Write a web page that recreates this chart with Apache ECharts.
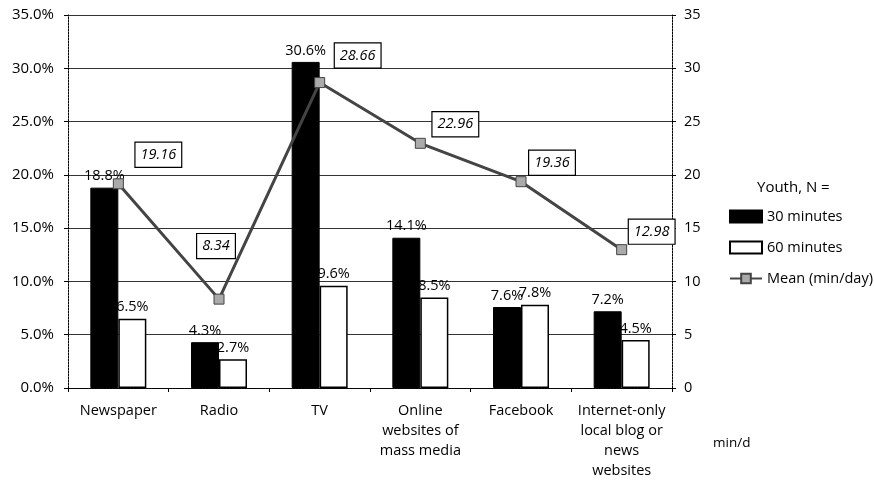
<!DOCTYPE html>
<html>
<head>
<meta charset="utf-8">
<script src="https://cdn.jsdelivr.net/npm/echarts@6/dist/echarts.min.js"></script>
<style>
  html, body { margin: 0; padding: 0; background: #fff; }
  #chart { width: 874px; height: 482px; }
</style>
</head>
<body>
<div id="chart"></div>
<script>
// Media categories along the x axis
const categories = [
  'Newspaper',
  'Radio',
  'TV',
  'Online\nwebsites of\nmass media',
  'Facebook',
  'Internet-only\nlocal blog or\nnews\nwebsites'
];
// Share of youth (%) per usage time
const share30 = [18.8, 4.3, 30.6, 14.1, 7.6, 7.2];
const share60 = [6.5, 2.7, 9.6, 8.5, 7.8, 4.5];
// Mean usage, minutes per day
const meanMinutes = [19.16, 8.34, 28.66, 22.96, 19.36, 12.98];
// Where each boxed mean label sits relative to its point
const meanLabelOffsets = [[40, -29], [-3, -53], [38, -27], [35, -19], [31, -19], [30, -18]];

const FONT = 'Open Sans';
const chart = echarts.init(document.getElementById('chart'));

const meanData = meanMinutes.map((v, i) => ({
  value: v,
  label: { offset: meanLabelOffsets[i] }
}));

chart.setOption({
  animation: false,
  textStyle: { fontFamily: FONT, color: '#000' },
  title: [{
    text: 'Youth, N =',
    left: 752, top: 175,
    textStyle: { fontFamily: FONT, fontSize: 15, fontWeight: 'normal', color: '#000' }
  }, {
    text: 'min/d',
    left: 708, top: 431,
    textStyle: { fontFamily: FONT, fontSize: 13.5, fontWeight: 'normal', color: '#000' }
  }],
  legend: {
    orient: 'vertical',
    left: 724, top: 204,
    itemGap: 16,
    itemWidth: 32, itemHeight: 12,
    textStyle: { fontFamily: FONT, fontSize: 14.5, color: '#000' },
    data: [
      { name: '30 minutes', icon: 'rect' },
      { name: '60 minutes', icon: 'rect' },
      { name: 'Mean (min/day)' }
    ]
  },
  grid: { left: 68, right: 202, top: 15, bottom: 94 },
  xAxis: {
    type: 'category',
    data: categories,
    axisLine: { lineStyle: { color: '#000', width: 1, type: [2, 1] } },
    axisTick: { show: true, length: 4, lineStyle: { color: '#000' } },
    axisLabel: { fontFamily: FONT, fontSize: 14.5, color: '#000', margin: 13, lineHeight: 20, interval: 0 }
  },
  yAxis: [{
    type: 'value',
    min: 0, max: 35, interval: 5,
    axisLine: { show: true, lineStyle: { color: '#000', type: [2, 1] } },
    axisTick: { show: true, length: 4, lineStyle: { color: '#000' } },
    axisLabel: { fontFamily: FONT, fontSize: 15, color: '#000', margin: 14,
      formatter: v => v.toFixed(1) + '%' },
    splitLine: { show: true, lineStyle: { color: '#333', width: 1 } }
  }, {
    type: 'value',
    position: 'right',
    min: 0, max: 35, interval: 5,
    axisLine: { show: true, lineStyle: { color: '#000', type: [2, 1] } },
    axisTick: { show: true, length: 4, lineStyle: { color: '#000' } },
    axisLabel: { fontFamily: FONT, fontSize: 14.5, color: '#000', margin: 12 },
    splitLine: { show: false }
  }],
  series: [{
    name: '30 minutes',
    type: 'bar',
    data: share30,
    barWidth: 28,
    barGap: '0%',
    itemStyle: { color: '#000', borderColor: '#000', borderWidth: 1 },
    label: { show: true, position: 'top', distance: 4, fontFamily: FONT, fontSize: 14.5, color: '#000',
      formatter: p => p.value.toFixed(1) + '%' }
  }, {
    name: '60 minutes',
    type: 'bar',
    data: share60,
    barWidth: 28,
    barGap: '0%',
    itemStyle: { color: '#fff', borderColor: '#000', borderWidth: 1.5 },
    label: { show: true, position: 'top', distance: 4, fontFamily: FONT, fontSize: 14.5, color: '#000',
      formatter: p => p.value.toFixed(1) + '%' }
  }, {
    name: 'Mean (min/day)',
    type: 'line',
    yAxisIndex: 1,
    data: meanData,
    symbol: 'rect',
    symbolSize: 10,
    lineStyle: { color: '#444', width: 3 },
    itemStyle: { color: '#aaa', borderColor: '#444', borderWidth: 1 },
    z: 5,
    label: {
      show: true,
      position: 'inside',
      fontFamily: FONT, fontSize: 14.5, fontStyle: 'italic', color: '#000',
      backgroundColor: '#fff',
      borderColor: '#000', borderWidth: 1.2,
      padding: [5, 5, 4, 5],
      formatter: p => p.value.toFixed(2)
    }
  }]
});
</script>
</body>
</html>
